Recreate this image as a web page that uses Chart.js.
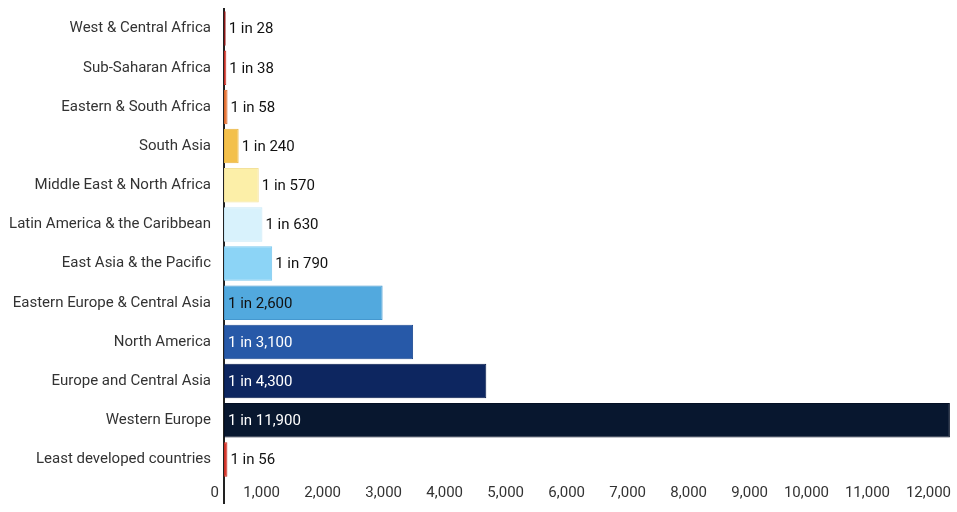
<!DOCTYPE html>
<html>
<head>
<meta charset="utf-8">
<script src="https://cdn.jsdelivr.net/npm/chart.js@4/dist/chart.umd.min.js"></script>
<style>
html,body{margin:0;padding:0;background:#fff;}
#wrap{width:957px;height:512px;}
</style>
</head>
<body>
<div id="wrap"><canvas id="c"></canvas></div>
<script>
const categories = ["West & Central Africa","Sub-Saharan Africa","Eastern & South Africa","South Asia","Middle East & North Africa","Latin America & the Caribbean","East Asia & the Pacific","Eastern Europe & Central Asia","North America","Europe and Central Asia","Western Europe","Least developed countries"];
const values = [28,38,58,240,570,630,790,2600,3100,4300,11900,56];
const valueLabels = ["1 in 28","1 in 38","1 in 58","1 in 240","1 in 570","1 in 630","1 in 790","1 in 2,600","1 in 3,100","1 in 4,300","1 in 11,900","1 in 56"];
const barColors = ["#a11d1d","#d8392e","#e8783a","#f3c04b","#fcefa8","#d8f2fc","#8cd4f6","#52a9de","#2759a8","#0d2660","#08172f","#d8392e"];
const borderColors = ["#8a1515","#c42f25","#d8692e","#e9b43e","#f3e19a","#c8e8f6","#7cc8ee","#4598cf","#1f4b92","#071c4c","#040f24","#c42f25"];
const textColors = ["#111","#111","#111","#111","#111","#111","#111","#111","#fff","#fff","#fff","#111"];
const insideLabel = [false,false,false,false,false,false,false,true,true,true,true,false];

const labelPlugin = {
  id: 'valLabels',
  afterDatasetsDraw(chart) {
    const ctx = chart.ctx;
    const meta = chart.getDatasetMeta(0);
    const xs = chart.scales.x;
    ctx.save();
    ctx.font = '15px Roboto';
    ctx.textBaseline = 'middle';
    ctx.textAlign = 'left';
    meta.data.forEach((bar, i) => {
      ctx.fillStyle = textColors[i];
      const x = insideLabel[i] ? xs.getPixelForValue(0) + 4 : bar.x + 3;
      ctx.fillText(valueLabels[i], x, bar.y + 1);
    });
    const x0 = xs.getPixelForValue(0);
    ctx.strokeStyle = '#222';
    ctx.lineWidth = 2;
    ctx.beginPath();
    ctx.moveTo(x0, chart.chartArea.bottom);
    ctx.lineTo(x0, chart.chartArea.bottom + 25);
    ctx.stroke();
    ctx.restore();
  }
};

new Chart(document.getElementById('c'), {
  type: 'bar',
  data: {
    labels: categories,
    datasets: [{
      data: values,
      backgroundColor: barColors,
      borderColor: borderColors,
      borderWidth: 1,
      borderSkipped: false,
      categoryPercentage: 1,
      barPercentage: 0.88
    }]
  },
  options: {
    indexAxis: 'y',
    responsive: true,
    maintainAspectRatio: false,
    animation: false,
    layout: { padding: { top: 0, right: 1, bottom: 5, left: 0 } },
    plugins: { legend: { display: false }, tooltip: { enabled: false } },
    scales: {
      x: {
        min: 0, max: 12000,
        grid: { display: false, drawTicks: false },
        border: { display: false },
        afterFit(scale) { scale.paddingLeft = 0; scale.paddingRight = 0; },
        ticks: {
          stepSize: 1000,
          align: 'end',
          labelOffset: -5,
          padding: 5,
          maxRotation: 0,
          autoSkip: false,
          color: '#333',
          font: { family: 'Roboto', size: 15 }
        }
      },
      y: {
        grid: { display: false, drawTicks: false },
        border: { display: true, color: '#222', width: 2 },
        afterFit(scale) { scale.width = 224; scale.paddingTop = 9; scale.paddingBottom = 0; },
        ticks: {
          padding: 13,
          color: '#333',
          font: { family: 'Roboto', size: 15 }
        }
      }
    }
  },
  plugins: [labelPlugin]
});
</script>
</body>
</html>
